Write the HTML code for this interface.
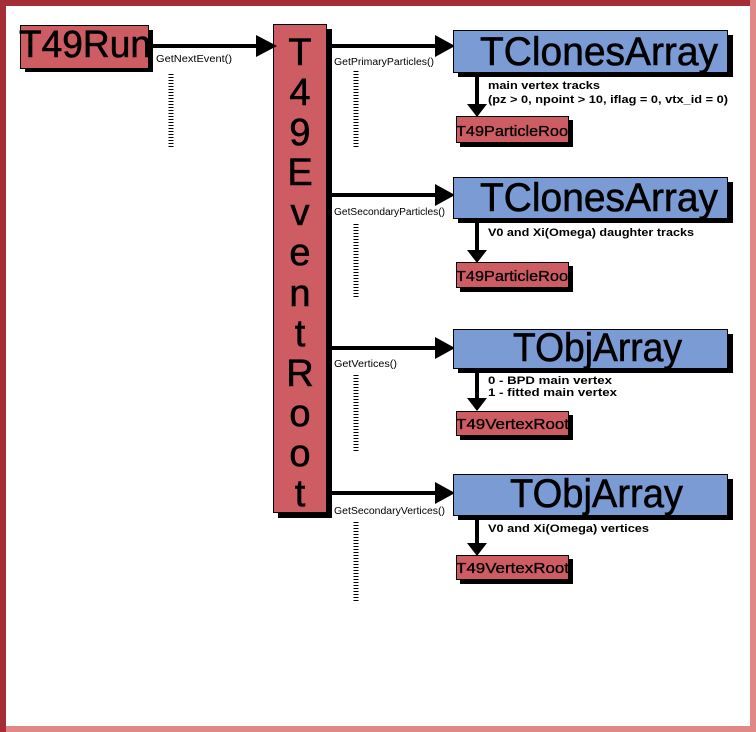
<!DOCTYPE html>
<html><head><meta charset="utf-8"><style>
html,body{margin:0;padding:0;background:#fff}
svg{display:block}
text{font-family:"Liberation Sans",sans-serif}
</style></head><body>
<svg width="756" height="732" viewBox="0 0 756 732" xmlns="http://www.w3.org/2000/svg">
<rect x="0" y="0" width="756" height="732" fill="#fff"/>
<rect x="750" y="0" width="6" height="732" fill="#e08888"/>
<rect x="0" y="726" width="756" height="6" fill="#e08888"/>
<rect x="0" y="0" width="6" height="732" fill="#a52d35"/>
<rect x="0" y="0" width="750" height="6" fill="#a52d35"/>

<rect x="25" y="30" width="128" height="42" fill="#000"/>
<rect x="20.5" y="25.5" width="128" height="43" fill="#cd5c63" stroke="#000"/>
<text x="19" y="57" font-size="38" textLength="132" lengthAdjust="spacingAndGlyphs" stroke="#000" stroke-width="0.6">T49Run</text>

<rect x="278" y="29" width="54" height="489" fill="#000"/>
<rect x="273.5" y="24.5" width="53" height="488" fill="#cd5c63" stroke="#000"/>
<g font-size="38" text-anchor="middle" stroke="#000" stroke-width="0.6">
<text x="300" y="65">T</text><text x="300" y="105">4</text><text x="300" y="145">9</text>
<text x="300" y="185">E</text><text x="300" y="225">v</text><text x="300" y="265">e</text>
<text x="300" y="306">n</text><text x="300" y="346">t</text><text x="300" y="386">R</text>
<text x="300" y="426">o</text><text x="300" y="466">o</text><text x="300" y="506">t</text>
</g>

<g fill="#000">
<rect x="148" y="44" width="110" height="4"/><polygon points="256,35 277,46 256,57"/>
<rect x="327" y="44" width="110" height="4"/><polygon points="435,35 455,46 435,57"/>
<rect x="327" y="193" width="110" height="4"/><polygon points="435,184 455,195 435,206"/>
<rect x="327" y="346" width="110" height="4"/><polygon points="435,337 455,348 435,359"/>
<rect x="327" y="491" width="110" height="4"/><polygon points="435,482 455,493 435,504"/>
</g>

<g font-size="10" fill="#000">
<text x="156" y="62" textLength="76" lengthAdjust="spacingAndGlyphs">GetNextEvent()</text>
<text x="334" y="65" textLength="100" lengthAdjust="spacingAndGlyphs">GetPrimaryParticles()</text>
<text x="334" y="215" textLength="111" lengthAdjust="spacingAndGlyphs">GetSecondaryParticles()</text>
<text x="334" y="367" textLength="63" lengthAdjust="spacingAndGlyphs">GetVertices()</text>
<text x="334" y="514" textLength="111" lengthAdjust="spacingAndGlyphs">GetSecondaryVertices()</text>
</g>

<g stroke="#000" stroke-width="5" stroke-dasharray="1 2">
<line x1="171" y1="74" x2="171" y2="147"/>
<line x1="356" y1="71" x2="356" y2="148"/>
<line x1="356" y1="224" x2="356" y2="298"/>
<line x1="356" y1="375" x2="356" y2="452"/>
<line x1="356" y1="522" x2="356" y2="601"/>
</g>

<g>
<rect x="458" y="35" width="275" height="42" fill="#000"/>
<rect x="453.5" y="30.5" width="274" height="42" fill="#7b9bd4" stroke="#000"/>
<rect x="458" y="182" width="275" height="41" fill="#000"/>
<rect x="453.5" y="177.5" width="274" height="41" fill="#7b9bd4" stroke="#000"/>
<rect x="458" y="334" width="275" height="39" fill="#000"/>
<rect x="453.5" y="329.5" width="274" height="39" fill="#7b9bd4" stroke="#000"/>
<rect x="458" y="479" width="275" height="41" fill="#000"/>
<rect x="453.5" y="474.5" width="274" height="41" fill="#7b9bd4" stroke="#000"/>
</g>
<g font-size="40" stroke="#000" stroke-width="0.6">
<text x="480" y="65" textLength="238" lengthAdjust="spacingAndGlyphs">TClonesArray</text>
<text x="480" y="211" textLength="238" lengthAdjust="spacingAndGlyphs">TClonesArray</text>
<text x="513" y="361" textLength="169" lengthAdjust="spacingAndGlyphs">TObjArray</text>
<text x="510" y="507" textLength="173" lengthAdjust="spacingAndGlyphs">TObjArray</text>
</g>

<g fill="#000">
<rect x="475" y="73" width="4" height="33"/><polygon points="467,104 487,104 477,117"/>
<rect x="475" y="219" width="4" height="33"/><polygon points="467,250 487,250 477,263"/>
<rect x="475" y="369" width="4" height="31"/><polygon points="467,398 487,398 477,411"/>
<rect x="475" y="516" width="4" height="28"/><polygon points="467,543 487,543 477,556"/>
</g>

<g font-size="11" font-weight="bold">
<text x="488" y="89" textLength="112" lengthAdjust="spacingAndGlyphs">main vertex tracks</text>
<text x="488" y="103" textLength="240" lengthAdjust="spacingAndGlyphs">(pz &gt; 0, npoint &gt; 10, iflag = 0, vtx_id = 0)</text>
<text x="488" y="236" textLength="206" lengthAdjust="spacingAndGlyphs">V0 and Xi(Omega) daughter tracks</text>
<text x="488" y="384" textLength="124" lengthAdjust="spacingAndGlyphs">0  -  BPD main vertex</text>
<text x="488" y="396" textLength="129" lengthAdjust="spacingAndGlyphs">1  -  fitted main vertex</text>
<text x="488" y="532" textLength="161" lengthAdjust="spacingAndGlyphs">V0 and Xi(Omega) vertices</text>
</g>

<g>
<rect x="460" y="120" width="113" height="27" fill="#000"/>
<rect x="456.5" y="116.5" width="112" height="26" fill="#cd5c63" stroke="#000"/>
<rect x="460" y="266" width="113" height="26" fill="#000"/>
<rect x="456.5" y="262.5" width="112" height="25" fill="#cd5c63" stroke="#000"/>
<rect x="460" y="415" width="113" height="25" fill="#000"/>
<rect x="456.5" y="411.5" width="112" height="24" fill="#cd5c63" stroke="#000"/>
<rect x="460" y="559" width="113" height="25" fill="#000"/>
<rect x="456.5" y="555.5" width="112" height="24" fill="#cd5c63" stroke="#000"/>
</g>
<g font-size="15" stroke="#000" stroke-width="0.3">
<text x="456" y="136" textLength="112" lengthAdjust="spacingAndGlyphs">T49ParticleRoo</text>
<text x="456" y="281" textLength="112" lengthAdjust="spacingAndGlyphs">T49ParticleRoo</text>
<text x="456" y="429" textLength="113" lengthAdjust="spacingAndGlyphs">T49VertexRoot</text>
<text x="456" y="573" textLength="113" lengthAdjust="spacingAndGlyphs">T49VertexRoot</text>
</g>
</svg>
</body></html>
